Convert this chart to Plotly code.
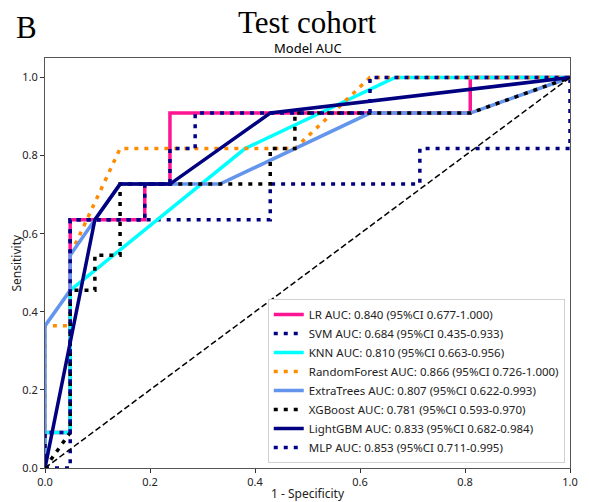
import plotly.graph_objects as go

# ROC curve points (1 - Specificity, Sensitivity)
lr_fpr = [0, 0, 0.048, 0.048, 0.190, 0.190, 0.238, 0.238, 0.810, 0.810, 1.0]
lr_tpr = [0, 0.091, 0.091, 0.636, 0.636, 0.727, 0.727, 0.909, 0.909, 1.0, 1.0]

svm_fpr = [0, 0.048, 0.048, 0.429, 0.429, 0.714, 0.714, 1.0, 1.0]
svm_tpr = [0, 0, 0.636, 0.636, 0.727, 0.727, 0.818, 0.818, 1.0]

knn_fpr = [0, 0, 0.048, 0.048, 0.381, 0.667, 1.0]
knn_tpr = [0, 0.091, 0.091, 0.455, 0.818, 1.0, 1.0]

rf_fpr = [0, 0, 0.048, 0.048, 0.143, 0.476, 0.619, 1.0]
rf_tpr = [0, 0.364, 0.364, 0.545, 0.818, 0.818, 1.0, 1.0]

et_fpr = [0, 0, 0.048, 0.048, 0.095, 0.143, 0.333, 0.619, 0.810, 1.0]
et_tpr = [0, 0.364, 0.455, 0.545, 0.636, 0.727, 0.727, 0.909, 0.909, 1.0]

xgb_fpr = [0, 0.048, 0.048, 0.095, 0.095, 0.143, 0.143, 0.429, 0.429, 0.476, 0.476, 0.810, 1.0]
xgb_tpr = [0, 0.091, 0.455, 0.455, 0.545, 0.545, 0.727, 0.727, 0.818, 0.818, 0.909, 0.909, 1.0]

lgbm_fpr = [0, 0.095, 0.143, 0.238, 0.429, 1.0]
lgbm_tpr = [0, 0.636, 0.727, 0.727, 0.909, 1.0]

mlp_fpr = [0, 0, 0.048, 0.048, 0.190, 0.190, 0.238, 0.238, 0.286, 0.286, 0.619, 0.619, 1.0]
mlp_tpr = [0, 0.091, 0.091, 0.636, 0.636, 0.727, 0.727, 0.818, 0.818, 0.909, 0.909, 1.0, 1.0]

model_names = ["LR", "SVM", "KNN", "RandomForest", "ExtraTrees", "XGBoost", "LightGBM", "MLP"]
auc_values = ["0.840", "0.684", "0.810", "0.866", "0.807", "0.781", "0.833", "0.853"]
ci_values = ["0.677-1.000", "0.435-0.933", "0.663-0.956", "0.726-1.000",
             "0.622-0.993", "0.593-0.970", "0.682-0.984", "0.711-0.995"]

diag_x = [0, 1]
diag_y = [0, 1]

tick_vals = [0.0, 0.2, 0.4, 0.6, 0.8, 1.0]

curves = [(lr_fpr, lr_tpr), (svm_fpr, svm_tpr), (knn_fpr, knn_tpr), (rf_fpr, rf_tpr),
          (et_fpr, et_tpr), (xgb_fpr, xgb_tpr), (lgbm_fpr, lgbm_tpr), (mlp_fpr, mlp_tpr)]
colors = ["#FF1493", "#000080", "#00FFFF", "#FF8C00", "#6495ED", "#000000", "#000080", "#00008B"]
dashes = ["solid", "4px,6px", "solid", "4px,6px", "solid", "4px,6px", "solid", "4px,6px"]

SANS = "Noto Sans, Open Sans, sans-serif"
SERIF = "Liberation Serif, Times New Roman, serif"

fig = go.Figure()
for (fx, ty), name, auc, ci, col, dash in zip(curves, model_names, auc_values, ci_values, colors, dashes):
    fig.add_trace(go.Scatter(
        x=fx, y=ty, mode="lines",
        name=f"{name} AUC: {auc} (95%CI {ci})",
        line=dict(color=col, width=3.5, dash=dash),
        hoverinfo="skip",
    ))

fig.add_trace(go.Scatter(
    x=diag_x, y=diag_y, mode="lines", showlegend=False,
    line=dict(color="black", width=1.5, dash="6px,3px"), hoverinfo="skip",
))

axis_common = dict(
    showgrid=False, zeroline=False, showline=True, mirror=True,
    linecolor="#555555", linewidth=1, automargin=False,
    ticks="outside", ticklen=4, tickcolor="#333333",
    tickvals=tick_vals, tickformat=".1f",
    tickfont=dict(family=SANS, size=11, color="#222222"),
)

# the page adds an 8px body margin, so the figure is 8px smaller and shifted
fig.update_layout(
    width=581, height=494,
    margin=dict(l=37, r=19, t=50, b=34),
    paper_bgcolor="white", plot_bgcolor="white",
    xaxis=dict(range=[0, 1], title=dict(text="1 - Specificity", standoff=2,
               font=dict(family=SANS, size=12, color="#222222")), **axis_common),
    yaxis=dict(range=[0, 1.05], **axis_common),
    legend=dict(
        x=0.99, y=0.012, xanchor="right", yanchor="bottom",
        bgcolor="white", bordercolor="#d0d0d0", borderwidth=1,
        font=dict(family=SANS, size=11.5, color="#222222"),
    ),
    showlegend=True,
    annotations=[
        dict(text="Sensitivity", xref="paper", yref="paper", x=-0.056, y=0.5,
             xanchor="center", yanchor="middle", showarrow=False, textangle=-90,
             font=dict(family=SANS, size=12, color="#222222")),
        dict(text="B", xref="paper", yref="paper", x=-0.035, y=1.075,
             xanchor="center", yanchor="middle", showarrow=False,
             font=dict(family=SERIF, size=31, color="black")),
        dict(text="Test cohort", xref="paper", yref="paper", x=0.5, y=1.086,
             xanchor="center", yanchor="middle", showarrow=False,
             font=dict(family=SERIF, size=31, color="black")),
        dict(text="Model AUC", xref="paper", yref="paper", x=0.5, y=1.024,
             xanchor="center", yanchor="middle", showarrow=False,
             font=dict(family=SANS, size=13, color="black")),
    ],
)

fig.write_html("out.html")
